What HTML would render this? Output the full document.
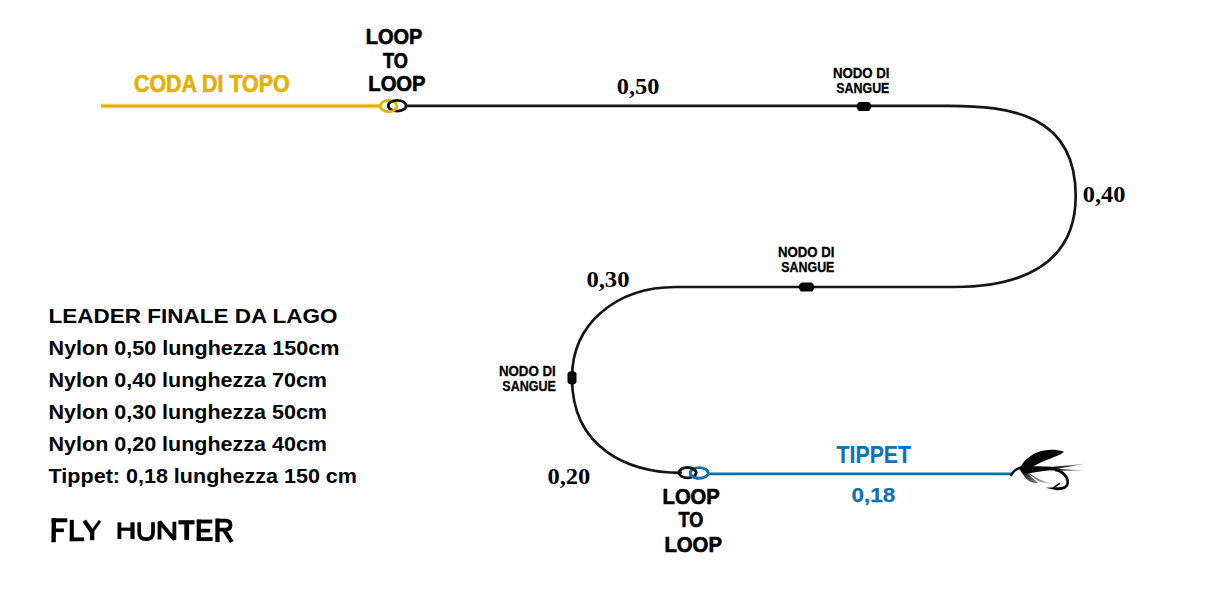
<!DOCTYPE html>
<html><head><meta charset="utf-8"><style>
html,body{margin:0;padding:0;background:#fff;width:1216px;height:593px;overflow:hidden}
svg{display:block}
text{font-family:"Liberation Sans",sans-serif;font-weight:bold}
.srf{font-family:"Liberation Serif",serif}
</style></head><body>
<svg width="1216" height="593" viewBox="0 0 1216 593">
<rect width="1216" height="593" fill="#fff"/>
<!-- yellow fly line -->
<path d="M101 106 H380" stroke="#f7dc6a" stroke-width="4.4" fill="none"/>
<path d="M101 106 H380" stroke="#e3ae00" stroke-width="2.4" fill="none"/>
<!-- black leader main path -->
<path d="M405 105.9 H948.2 C1009.9 105.9 1075.7 114.1 1075.7 196 C1075.7 265.8 1018.6 287 954.9 287 H675.9 C616.3 287 572 323.6 572 378 C572 449 629.1 473 681.9 472.8 H678" stroke="#161616" stroke-width="2.7" fill="none"/>
<!-- blue tippet -->
<path d="M709 473.9 H1012" stroke="#0b70aa" stroke-width="2.8" fill="none"/>
<!-- knots -->
<path d="M856.3 106.4 C857.516 102.7 858.428 101.9 859.948 101.9 H867.852 C869.372 101.9 870.284 102.7 871.5 106.4 C870.284 110.10000000000001 869.372 110.9 867.852 110.9 H859.948 C858.428 110.9 857.516 110.10000000000001 856.3 106.4 Z" fill="#000"/>
<path d="M798.5 287.0 C799.796 283.2 800.768 282.4 802.388 282.4 H810.812 C812.432 282.4 813.404 283.2 814.7 287.0 C813.404 290.8 812.432 291.6 810.812 291.6 H802.388 C800.768 291.6 799.796 290.8 798.5 287.0 Z" fill="#000"/>
<path d="M572.0 370.8 C575.7 371.92 576.5 372.76 576.5 374.16 V381.44 C576.5 382.84000000000003 575.7 383.68 572.0 384.8 C568.3 383.68 567.5 382.84000000000003 567.5 381.44 V374.16 C567.5 372.76 568.3 371.92 572.0 370.8 Z" fill="#000"/>
<!-- top loops -->
<ellipse cx="388.5" cy="106" rx="8.3" ry="5.6" stroke="#e5b005" stroke-width="2.8" fill="none"/>
<ellipse cx="397.2" cy="105.7" rx="8.9" ry="5.4" stroke="#111" stroke-width="2.8" fill="none"/>
<path d="M396.52 107.45 L396.26 107.99 L395.92 108.51 L395.50 109.01 L395.01 109.47 L394.45 109.90 L393.84 110.29 L393.16 110.63 L392.44 110.93 L391.68 111.17 L390.88 111.36 L390.06 111.50 L389.22 111.58" stroke="#e5b005" stroke-width="2.8" fill="none"/>
<!-- bottom loops -->
<ellipse cx="699.2" cy="472.9" rx="9" ry="5.3" stroke="#116fb2" stroke-width="2.9" fill="none"/>
<ellipse cx="687.6" cy="472.7" rx="8.6" ry="5.2" stroke="#111" stroke-width="2.9" fill="none"/>
<path d="M698.42 478.18 L697.51 478.11 L696.62 477.98 L695.76 477.80 L694.93 477.57 L694.15 477.29 L693.41 476.96 L692.74 476.59 L692.14 476.19 L691.61 475.75 L691.16 475.28 L690.79 474.78 L690.51 474.27" stroke="#116fb2" stroke-width="2.9" fill="none"/>

<!-- labels -->
<text x="134" y="92" font-size="23" fill="#e5b005" textLength="155.6" lengthAdjust="spacingAndGlyphs" stroke="#e5b005" stroke-width="0.7">CODA DI TOPO</text>
<text x="365.7" y="43.6" font-size="22.5" fill="#000" textLength="56.7" lengthAdjust="spacingAndGlyphs" stroke="#000" stroke-width="0.7">LOOP</text>
<text x="383" y="67.6" font-size="22.5" fill="#000" textLength="24.9" lengthAdjust="spacingAndGlyphs" stroke="#000" stroke-width="0.7">TO</text>
<text x="368.3" y="91" font-size="22.5" fill="#000" textLength="57.3" lengthAdjust="spacingAndGlyphs" stroke="#000" stroke-width="0.7">LOOP</text>
<text x="616.8" y="93.6" font-size="23" class="srf" fill="#000" textLength="42.6" lengthAdjust="spacingAndGlyphs">0,50</text>

<text x="832.9" y="77.8" font-size="14" fill="#000" textLength="56.5" lengthAdjust="spacingAndGlyphs" stroke="#000" stroke-width="0.3">NODO DI</text>
<text x="836.3" y="92.9" font-size="14" fill="#000" textLength="53.1" lengthAdjust="spacingAndGlyphs" stroke="#000" stroke-width="0.3">SANGUE</text>
<text x="1082.8" y="202" font-size="23" class="srf" fill="#000" textLength="42.6" lengthAdjust="spacingAndGlyphs">0,40</text>
<text x="777.9" y="257" font-size="14" fill="#000" textLength="56.5" lengthAdjust="spacingAndGlyphs" stroke="#000" stroke-width="0.3">NODO DI</text>
<text x="781.3" y="272" font-size="14" fill="#000" textLength="53.1" lengthAdjust="spacingAndGlyphs" stroke="#000" stroke-width="0.3">SANGUE</text>
<text x="586.4" y="287" font-size="23" class="srf" fill="#000" textLength="43.1" lengthAdjust="spacingAndGlyphs">0,30</text>
<text x="498.9" y="375.6" font-size="14" fill="#000" textLength="56.9" lengthAdjust="spacingAndGlyphs" stroke="#000" stroke-width="0.3">NODO DI</text>
<text x="502.3" y="390.9" font-size="14" fill="#000" textLength="53.5" lengthAdjust="spacingAndGlyphs" stroke="#000" stroke-width="0.3">SANGUE</text>
<text x="547.4" y="484" font-size="23" class="srf" fill="#000" textLength="43" lengthAdjust="spacingAndGlyphs">0,20</text>

<text x="662.6" y="503.9" font-size="22.5" fill="#000" textLength="57.2" lengthAdjust="spacingAndGlyphs" stroke="#000" stroke-width="0.7">LOOP</text>
<text x="678.5" y="527.2" font-size="22.5" fill="#000" textLength="24.7" lengthAdjust="spacingAndGlyphs" stroke="#000" stroke-width="0.7">TO</text>
<text x="664.4" y="551.7" font-size="22.5" fill="#000" textLength="57.6" lengthAdjust="spacingAndGlyphs" stroke="#000" stroke-width="0.7">LOOP</text>

<text x="836.6" y="463.1" font-size="24" fill="#116fb2" textLength="74.4" lengthAdjust="spacingAndGlyphs" stroke="#116fb2" stroke-width="0.2">TIPPET</text>
<text x="851.4" y="501.6" font-size="20.5" fill="#116fb2" textLength="43.8" lengthAdjust="spacingAndGlyphs" stroke="#116fb2" stroke-width="0.25">0,18</text>

<!-- left block -->
<text x="48.6" y="323.3" font-size="20.3" fill="#000" textLength="289" lengthAdjust="spacingAndGlyphs">LEADER FINALE DA LAGO</text>
<text x="48.6" y="355.1" font-size="20.3" fill="#000" textLength="290.7" lengthAdjust="spacingAndGlyphs">Nylon 0,50 lunghezza 150cm</text>
<text x="48.6" y="386.8" font-size="20.3" fill="#000" textLength="278.4" lengthAdjust="spacingAndGlyphs">Nylon 0,40 lunghezza 70cm</text>
<text x="48.6" y="419" font-size="20.3" fill="#000" textLength="278.4" lengthAdjust="spacingAndGlyphs">Nylon 0,30 lunghezza 50cm</text>
<text x="48.6" y="450.6" font-size="20.3" fill="#000" textLength="278.4" lengthAdjust="spacingAndGlyphs">Nylon 0,20 lunghezza 40cm</text>
<text x="48.6" y="482.7" font-size="20.3" fill="#000" textLength="308.4" lengthAdjust="spacingAndGlyphs">Tippet: 0,18 lunghezza 150 cm</text>

<!-- FLY HUNTER -->
<g stroke="#000" fill="none" stroke-linecap="butt" stroke-linejoin="miter">
<path d="M53.9 518.3 L53.6 542.2" stroke-width="4.4"/>
<path d="M51.6 520.3 H67.3" stroke-width="4"/>
<path d="M55.5 530.3 H63.9" stroke-width="3.6"/>
<path d="M71.8 519.9 V541.2" stroke-width="4.1"/>
<path d="M69.8 539.3 H84.2" stroke-width="3.8"/>
<path d="M84.3 520.8 L92 531.8" stroke-width="4.2"/>
<path d="M100 520.8 L92 531.8" stroke-width="3"/>
<path d="M92.1 531 V540.2" stroke-width="4.4"/>
<path d="M119.4 522.3 V538.9" stroke-width="3.8"/>
<path d="M132.5 522.3 V538.9" stroke-width="4.2"/>
<path d="M121 529.2 H131" stroke-width="3.2"/>
<path d="M139.2 522.3 V532.5 C139.2 537.3 141.8 539.1 146.1 539.1 C150.4 539.1 153 537.3 153 532.5 V522.3" stroke-width="3.7"/>
<path d="M159.5 539.4 V521.8 L174.4 539.4 V521.8" stroke-width="3.8" stroke-linejoin="bevel"/>
<path d="M178.4 522.3 H194.5" stroke-width="4.2"/>
<path d="M186.7 522 V539.9" stroke-width="4.8"/>
<path d="M198.8 519.6 V541" stroke-width="4.2"/>
<path d="M196.8 521.5 H212.3" stroke-width="3.8"/>
<path d="M198.8 530.6 H210.2" stroke-width="3.6"/>
<path d="M196.8 539.1 H212.6" stroke-width="3.9"/>
<path d="M217.5 518.6 V542.1" stroke-width="4.3"/>
<path d="M216 520.6 H225.5 C229.4 520.6 230.5 522.3 230.5 525.1 C230.5 528.3 229 529.6 225.5 529.6 H219" stroke-width="3.9"/>
<path d="M224.2 529.8 L231.8 542" stroke-width="4.2"/>
</g>

<!-- fly -->
<defs>
<linearGradient id="tailg" x1="1050" y1="0" x2="1086" y2="0" gradientUnits="userSpaceOnUse">
<stop offset="0" stop-color="#000" stop-opacity="1"/><stop offset="0.5" stop-color="#222" stop-opacity="0.85"/><stop offset="1" stop-color="#555" stop-opacity="0.35"/>
</linearGradient>
<linearGradient id="hackg" x1="1022" y1="471" x2="1050" y2="484" gradientUnits="userSpaceOnUse">
<stop offset="0" stop-color="#000" stop-opacity="0.95"/><stop offset="0.6" stop-color="#222" stop-opacity="0.6"/><stop offset="1" stop-color="#444" stop-opacity="0.2"/>
</linearGradient>
</defs>
<g fill="#050505" stroke="none">
<path d="M1011.3 475.2 C1012.5 472 1015.5 469 1021.5 467.3" stroke="#050505" stroke-width="2.3" fill="none" stroke-linecap="round"/>
<path d="M1020.5 467.3 C1023 462 1026 459 1030.3 456.2 C1035 453 1039 451.5 1044 450.5 C1050 449.3 1057 449.5 1063.8 451.6 C1062.5 453 1061.5 453.8 1060.7 454.2 C1057 456 1053 457.5 1048.5 459.2 C1043 461.3 1039 463.3 1035.4 465.3 C1033 466.5 1031.5 467.3 1030 467.5 Z"/>
<path d="M1019.5 466.6 C1030 466.2 1045 466.3 1052.6 467 L1056.8 469.3 C1052 470 1048 470.5 1042 471.2 C1035 472.2 1029 473.3 1024 473.4 C1021.5 473.2 1020 471.5 1019.5 466.6 Z"/>
<path d="M1050.5 467 L1085.5 463.8 L1058 468.7 L1085.5 470.8 L1050.5 470.4 Z" fill="url(#tailg)"/>
<path d="M1021.5 470.5 C1026 472 1032 476 1037 480 C1040 482 1044 483.5 1049.8 482.7 C1044 481.5 1040 480 1036 477.5 C1032 475 1028 472 1024 470 Z" fill="url(#hackg)"/>
<path d="M1020.8 470.5 C1022.5 474.5 1025.5 478.5 1029.5 481.3 C1032 482.6 1035 483.2 1038.5 482.8 C1033.5 479.5 1028.5 475 1026 470.8 Z" fill="url(#hackg)"/>
<path d="M1055 469.8 C1060 470.5 1064.5 473.5 1066.8 478 C1068.5 481.5 1067.8 485.5 1065 487.3 C1062.5 488.8 1059.5 488.9 1056.5 488.7" stroke="#050505" stroke-width="2.8" fill="none"/>
<path d="M1057 487.2 L1045.5 487.7 L1057 490.2 Z" fill="#050505"/>
<path d="M1059.8 483.3 L1053.2 487.8" stroke="#050505" stroke-width="1.5" fill="none"/>
</g>
</svg>
</body></html>
